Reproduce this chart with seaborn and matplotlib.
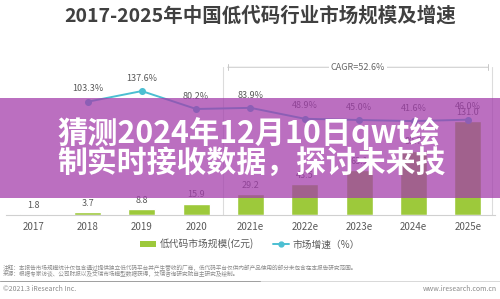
import matplotlib
matplotlib.use("Agg")
import matplotlib.pyplot as plt
import seaborn as sns
import pandas as pd
from matplotlib.patches import Rectangle, Patch
from matplotlib.lines import Line2D

# ---- data ----
years = ['2017', '2018', '2019', '2020', '2021e', '2022e', '2023e', '2024e', '2025e']
market_size = [1.8, 3.7, 8.8, 15.9, 29.2, 43.5, 63.1, 89.7, 131.0]
growth_years = ['2018', '2019', '2020', '2021e', '2022e', '2023e', '2024e', '2025e']
growth_rate = [103.3, 137.6, 80.2, 83.9, 48.9, 45.0, 41.6, 46.0]
title = '2017-2025年中国低代码行业市场规模及增速'
cagr_label = 'CAGR=52.6%'
legend_labels = ['低代码市场规模(亿元)', '市场增速（%）']
overlay_lines = ['猜测2024年12月10日qwt绘', '制实时接收数据，探讨未来技']
note1 = '注释：本报告市场规模统计仅包含通过提供独立低代码平台并产生营收的厂商，低代码平台仅供内部产品使用的部分未包含在本报告研究范围。'
note2 = '来源：根据专家访谈、公司财报以及艾瑞市场模型数据获得，艾瑞咨询研究院自主研究及绘制。'
copyright_txt = '©2021.3 iResearch Inc.'
website_txt = 'www.iresearch.com.cn'

sns.set_theme(style='white')
plt.rcParams['font.family'] = ['Noto Sans CJK SC', 'DejaVu Sans']

W, H = 500, 299
fig = plt.figure(figsize=(5, 2.99), dpi=100)
fig.patch.set_facecolor('white')

def fy(px):
    return 1 - px / H

bar_color = '#9dc93b'
line_color = '#4cbfd2'
grey_txt = '#595959'

ax = fig.add_axes([6 / W, fy(215), 489 / W, 150 / H])
df_bar = pd.DataFrame({'year': years, 'size': market_size})
sns.barplot(data=df_bar, x='year', y='size', order=years, color=bar_color,
            width=0.5, saturation=1, ax=ax)
ax.set_ylim(0, 209)
ax.set_xlim(-0.5, 8.5)
for c in ax.containers:
    ax.bar_label(c, fmt='%.1f', padding=3, fontsize=6.5, color=grey_txt)

ax2 = ax.twinx()
df_line = pd.DataFrame({'year': growth_years, 'growth': growth_rate})
sns.pointplot(data=df_line, x='year', y='growth', order=years, color=line_color,
              markers='o', markersize=4, linewidth=1.4, ax=ax2)
ax2.set_ylim(-259, 221)
ax2.set_xlim(-0.5, 8.5)
for yr, v in zip(growth_years, growth_rate):
    ax2.annotate(f'{v:.1f}%', (years.index(yr), v), xytext=(0, 6),
                 textcoords='offset points', ha='center', va='bottom',
                 fontsize=6.5, color=grey_txt)

for a in (ax, ax2):
    a.set_xlabel('')
    a.set_ylabel('')
    a.set_yticks([])
    for s in ('top', 'left', 'right', 'bottom'):
        a.spines[s].set_visible(False)
ax.spines['bottom'].set_visible(True)
ax.spines['bottom'].set_color('#d0d0d0')
ax.spines['bottom'].set_linewidth(0.8)
ax.tick_params(axis='x', length=0, pad=5, labelsize=7, labelcolor=grey_txt)
ax2.tick_params(axis='x', length=0, labelbottom=False)
ax.set_facecolor('none')
ax2.set_facecolor('none')

# separator lines and CAGR bracket
xt = ax.get_xaxis_transform()
ax.plot([3.5, 3.5], [0, 0.99], transform=xt, color='#dcdcdc', lw=0.8, clip_on=False)
ax.plot([8.45, 8.45], [0, 0.99], transform=xt, color='#dcdcdc', lw=0.8, clip_on=False)
ax.annotate('', xy=(8.42, 0.985), xytext=(3.53, 0.985), xycoords=xt, textcoords=xt,
            arrowprops=dict(arrowstyle='|-|', color='#c8c8c8', lw=0.7,
                            mutation_scale=2))
ax.text((3.5 + 8.45) / 2, 0.985, cagr_label, transform=xt, ha='center', va='center',
        fontsize=6.5, color='#666666',
        bbox=dict(facecolor='white', edgecolor='none', pad=1.5))

# title
fig.text(0.52, fy(16), title, ha='center', va='center', fontsize=14,
         fontweight='bold', color='#404040')

# legend
handles = [Patch(facecolor=bar_color, edgecolor='none'),
           Line2D([0], [0], color=line_color, marker='o', markersize=3.5, lw=1.4)]
fig.legend(handles, legend_labels, loc='center', bbox_to_anchor=(0.5, fy(244)),
           ncol=2, frameon=False, fontsize=7, labelcolor=grey_txt,
           handlelength=1.6, handleheight=0.7, columnspacing=2.0, handletextpad=0.4)

# footnotes
fig.text(0.006, fy(268), note1, fontsize=4.1, color='#8a8a8a', va='center')
fig.text(0.006, fy(274), note2, fontsize=4.1, color='#8a8a8a', va='center')
fig.add_artist(Line2D([0, 1], [fy(281), fy(281)], color='#d8d8d8', lw=0.7))
fig.add_artist(Line2D([0, 0.52], [fy(281), fy(281)], color='#a0a0a0', lw=0.7))
fig.text(0.006, fy(289), copyright_txt, fontsize=5, color='#8a8a8a', va='center')
fig.text(0.994, fy(289), website_txt, fontsize=5, color='#8a8a8a', va='center', ha='right')

# purple overlay banner
fig.add_artist(Rectangle((0, fy(198)), 1, 100 / H, transform=fig.transFigure,
                         facecolor=(163 / 255, 61 / 255, 171 / 255), alpha=0.74,
                         edgecolor='none', zorder=10))
fig.text(57 / W, fy(133), overlay_lines[0], fontsize=21.8, fontweight='bold',
         color='white', va='center', ha='left', zorder=11)
fig.text(57 / W, fy(163), overlay_lines[1], fontsize=21.5, fontweight='bold',
         color='white', va='center', ha='left', zorder=11)

fig.savefig('out.png', dpi=100, facecolor='white')
